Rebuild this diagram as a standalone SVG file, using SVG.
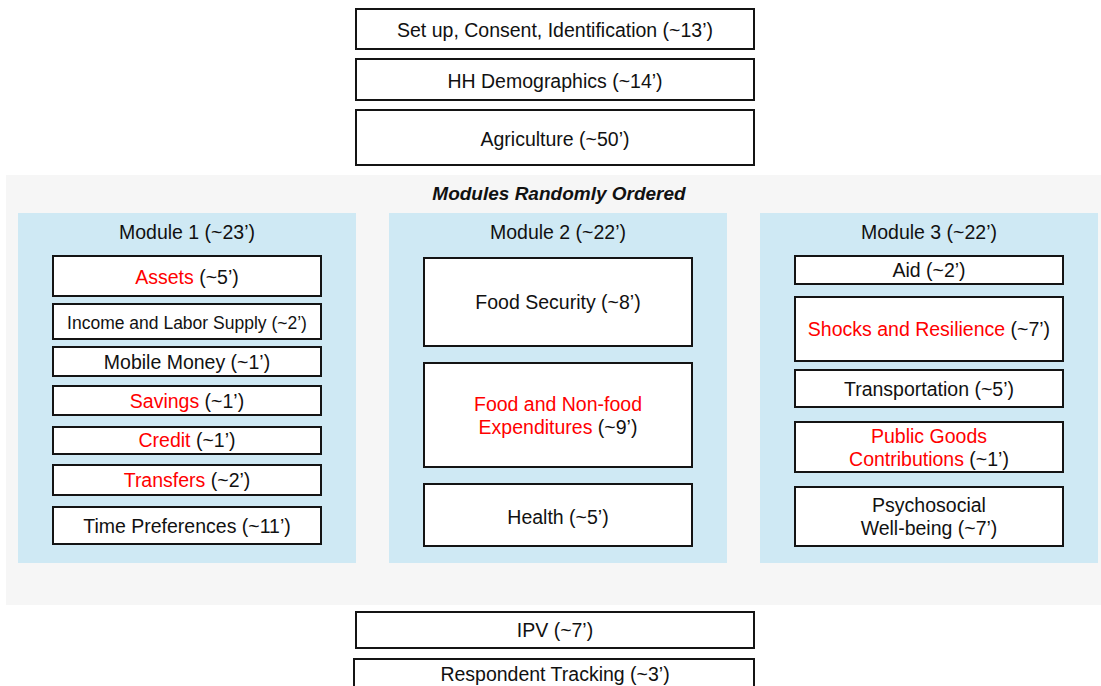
<svg xmlns="http://www.w3.org/2000/svg" width="1101" height="686" viewBox="0 0 1101 686">
<style>
.box{fill:#ffffff;stroke:#141414;stroke-width:2}
.mod{fill:#cfe9f4}
.t{font-family:"Liberation Sans",Arial,sans-serif;font-size:19.5px;fill:#111111;text-anchor:middle}
.s{font-size:17.5px}
.r{fill:#ff0000}
.h{font-weight:bold;font-style:italic;font-size:19px}
</style>
<rect width="1101" height="686" fill="#ffffff"/>
<g id="top">
<g id="setup"><rect class="box" x="356" y="9" width="398" height="40"/><text class="t" x="555" y="37">Set up, Consent, Identification (~13’)</text></g>
<g id="demographics"><rect class="box" x="356" y="59" width="398" height="41"/><text class="t" x="555" y="88">HH Demographics (~14’)</text></g>
<g id="agriculture"><rect class="box" x="356" y="110" width="398" height="55"/><text class="t" x="555" y="146">Agriculture (~50’)</text></g>
</g>
<g id="random">
<rect x="6" y="175" width="1095" height="430" fill="#f6f6f6"/>
<text class="t h" x="559" y="200">Modules Randomly Ordered</text>
</g>
<g id="module1">
<rect class="mod" x="18" y="213" width="338" height="350"/>
<text class="t" x="187" y="239">Module 1 (~23’)</text>
<g id="assets"><rect class="box" x="53" y="256" width="268" height="40"/><text class="t" x="187" y="284"><tspan class="r">Assets</tspan> (~5’)</text></g>
<g id="income"><rect class="box" x="53" y="304" width="268" height="35"/><text class="t s" x="187" y="329">Income and Labor Supply (~2’)</text></g>
<g id="mobile"><rect class="box" x="53" y="347" width="268" height="29"/><text class="t" x="187" y="369">Mobile Money (~1’)</text></g>
<g id="savings"><rect class="box" x="53" y="386" width="268" height="29"/><text class="t" x="187" y="408"><tspan class="r">Savings</tspan> (~1’)</text></g>
<g id="credit"><rect class="box" x="53" y="427" width="268" height="27"/><text class="t" x="187" y="447"><tspan class="r">Credit</tspan> (~1’)</text></g>
<g id="transfers"><rect class="box" x="53" y="465" width="268" height="30"/><text class="t" x="187" y="487"><tspan class="r">Transfers</tspan> (~2’)</text></g>
<g id="time"><rect class="box" x="53" y="507" width="268" height="37"/><text class="t" x="187" y="533">Time Preferences (~11’)</text></g>
</g>
<g id="module2">
<rect class="mod" x="389" y="213" width="338" height="350"/>
<text class="t" x="558" y="239">Module 2 (~22’)</text>
<g id="foodsec"><rect class="box" x="424" y="258" width="268" height="88"/><text class="t" x="558" y="309">Food Security (~8’)</text></g>
<g id="expend"><rect class="box" x="424" y="363" width="268" height="104"/><text class="t" x="558" y="411"><tspan class="r">Food and Non-food</tspan><tspan x="558" dy="23"><tspan class="r">Expenditures</tspan> (~9’)</tspan></text></g>
<g id="health"><rect class="box" x="424" y="484" width="268" height="62"/><text class="t" x="558" y="524">Health (~5’)</text></g>
</g>
<g id="module3">
<rect class="mod" x="760" y="213" width="338" height="350"/>
<text class="t" x="929" y="239">Module 3 (~22’)</text>
<g id="aid"><rect class="box" x="795" y="256" width="268" height="28"/><text class="t" x="929" y="277">Aid (~2’)</text></g>
<g id="shocks"><rect class="box" x="795" y="297" width="268" height="64"/><text class="t" x="929" y="336"><tspan class="r">Shocks and Resilience</tspan> (~7’)</text></g>
<g id="transport"><rect class="box" x="795" y="370" width="268" height="37"/><text class="t" x="929" y="396">Transportation (~5’)</text></g>
<g id="public"><rect class="box" x="795" y="422" width="268" height="50"/><text class="t" x="929" y="443"><tspan class="r">Public Goods</tspan><tspan x="929" dy="23"><tspan class="r">Contributions</tspan> (~1’)</tspan></text></g>
<g id="psycho"><rect class="box" x="795" y="487" width="268" height="59"/><text class="t" x="929" y="512">Psychosocial<tspan x="929" dy="23">Well-being (~7’)</tspan></text></g>
</g>
<g id="bottom">
<g id="ipv"><rect class="box" x="356" y="612" width="398" height="36"/><text class="t" x="555" y="637">IPV (~7’)</text></g>
<g id="tracking"><rect class="box" x="354" y="659" width="400" height="40"/><text class="t" x="555" y="681">Respondent Tracking (~3’)</text></g>
</g>
<g id="connectors"/>
</svg>
